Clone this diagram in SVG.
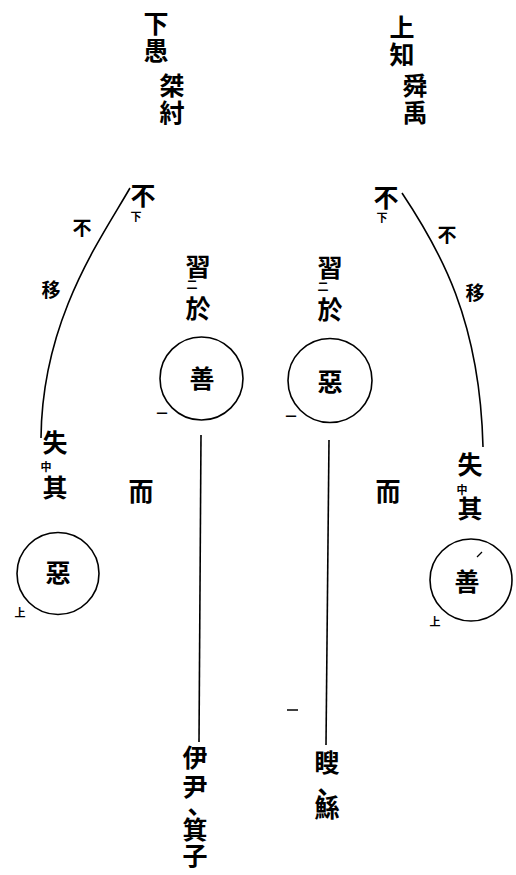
<svg xmlns="http://www.w3.org/2000/svg" width="516" height="875" viewBox="0 0 516 875">
<style>
text{font-family:"Noto Sans CJK JP","Noto Sans CJK SC",sans-serif;fill:#000;text-anchor:middle;dominant-baseline:central}
.b{font-size:25px;font-weight:700}
.m{font-size:19px;font-weight:700}
.s{font-size:11px;font-weight:700}
.ln{fill:none;stroke:#000;stroke-width:1.6}
</style>
<rect width="516" height="875" fill="#fff"/>
<g id="title-left">
<text class="b" x="156" y="22">下</text>
<text class="b" x="156" y="49">愚</text>
<text class="b" x="172" y="84">桀</text>
<text class="b" x="172" y="111">紂</text>
</g>
<g id="title-right">
<text class="b" x="402" y="26">上</text>
<text class="b" x="402" y="53">知</text>
<text class="b" x="415" y="84">舜</text>
<text class="b" x="415" y="111">禹</text>
</g>
<g id="buyi-left">
<text class="b" x="143" y="194">不</text>
<text class="s" x="136" y="216">下</text>
</g>
<g id="buyi-right">
<text class="b" x="386" y="196">不</text>
<text class="s" x="382" y="217">下</text>
</g>
<g id="label-left">
<text class="m" x="82" y="226">不</text>
<text class="m" x="51" y="288">移</text>
</g>
<g id="label-right">
<text class="m" x="447" y="233">不</text>
<text class="m" x="475" y="291">移</text>
</g>
<g id="xi-left">
<text class="b" x="198" y="265">習</text>
<text class="s" x="192" y="284">二</text>
<text class="b" x="198" y="307">於</text>
</g>
<g id="xi-right">
<text class="b" x="330" y="266">習</text>
<text class="s" x="323" y="286">二</text>
<text class="b" x="330" y="308">於</text>
</g>
<g id="shan-center">
<circle class="ln" cx="201.5" cy="378.5" r="41.5"/>
<text class="b" x="202" y="377">善</text>
<text class="s" x="162" y="413">一</text>
</g>
<g id="e-center">
<circle class="ln" cx="330" cy="380.5" r="42"/>
<text class="b" x="330" y="380">惡</text>
<text class="s" x="291" y="416">一</text>
</g>
<g id="shi-left">
<text class="b" x="55" y="441">失</text>
<text class="s" x="46" y="466">中</text>
<text class="b" x="55" y="486">其</text>
</g>
<g id="shi-right">
<text class="b" x="470" y="463">失</text>
<text class="s" x="462" y="489">中</text>
<text class="b" x="470" y="507">其</text>
</g>
<g id="er-left"><text class="b" x="141" y="490">而</text></g>
<g id="er-right"><text class="b" x="388" y="490">而</text></g>
<g id="e-left">
<circle class="ln" cx="58" cy="573.5" r="41"/>
<text class="b" x="58" y="571">惡</text>
<text class="s" x="20" y="612">上</text>
</g>
<g id="shan-right">
<circle class="ln" cx="471" cy="580" r="41"/>
<text class="b" x="467" y="580">善</text>
<line x1="477" y1="557" x2="482" y2="552" stroke="#000" stroke-width="1.2"/>
<text class="s" x="435" y="621">上</text>
</g>
<g id="yiyin">
<text class="b" x="195" y="756">伊</text>
<text class="b" x="195" y="785">尹</text>
<text class="b" x="200" y="803">、</text>
<text class="b" x="195" y="828">箕</text>
<text class="b" x="195" y="854">子</text>
</g>
<g id="gusou">
<text class="b" x="327" y="761">瞍</text>
<text class="b" x="330" y="783">、</text>
<text class="b" x="327" y="806">鯀</text>
</g>
<g id="connectors">
<path class="ln" d="M130,188 C100,240 42,320 41,438"/>
<path class="ln" d="M402,193 C440,250 480,320 483,447"/>
<line class="ln" x1="201" y1="435" x2="199" y2="742"/>
<line class="ln" x1="329" y1="440" x2="326" y2="745"/>
<line x1="287" y1="710" x2="298" y2="710" stroke="#000" stroke-width="1.5"/>
</g>
</svg>
